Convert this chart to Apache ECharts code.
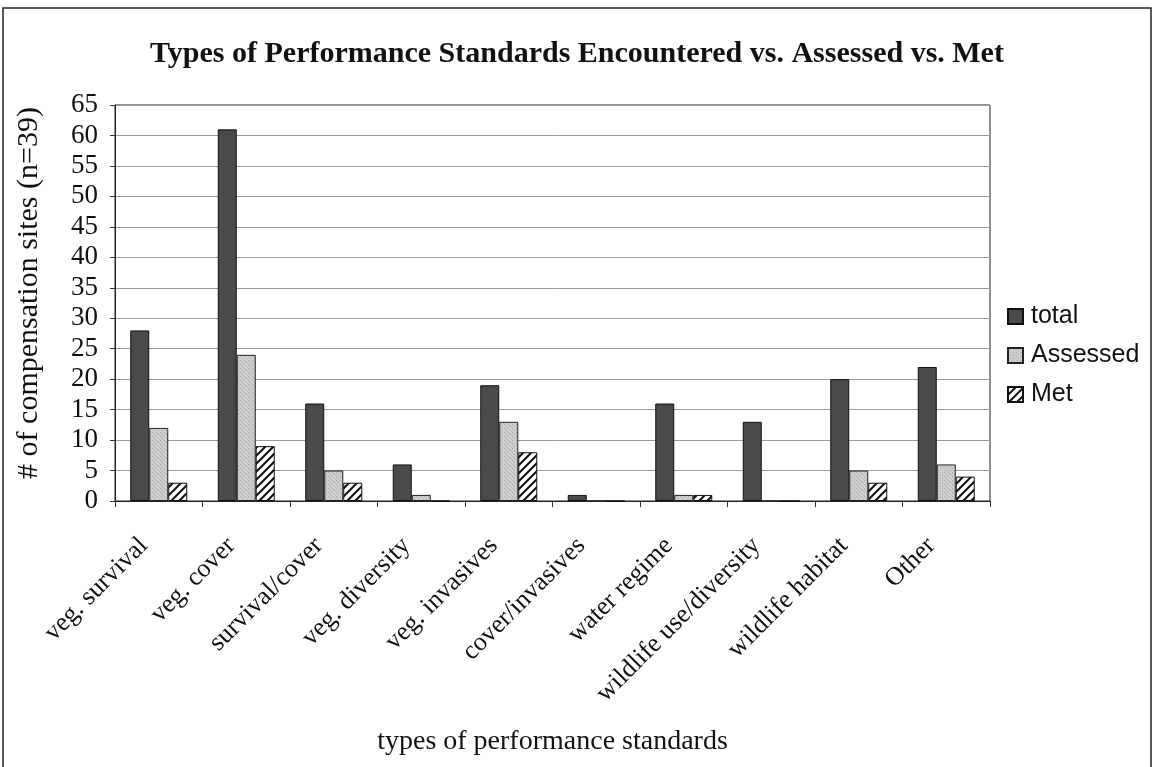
<!DOCTYPE html>
<html>
<head>
<meta charset="utf-8">
<script src="https://cdn.jsdelivr.net/npm/echarts@6/dist/echarts.min.js"></script>
<style>
  html, body { margin: 0; padding: 0; background: #fff; }
  #chart { width: 1154px; height: 767px; }
</style>
</head>
<body>
<div id="chart"></div>
<script>
// Performance standard categories and site counts
const categories = [
  'veg. survival', 'veg. cover', 'survival/cover', 'veg. diversity', 'veg. invasives',
  'cover/invasives', 'water regime', 'wildlife use/diversity', 'wildlife habitat', 'Other'
];
const totalCounts    = [28, 61, 16, 6, 19, 1, 16, 13, 20, 22];
const assessedCounts = [12, 24, 5, 1, 13, 0, 1, 0, 5, 6];
const metCounts      = [3, 9, 3, 0, 8, 0, 1, 0, 3, 4];
const yTicks = { min: 0, max: 65, interval: 5 };

// Diagonal hatch fill for the "Met" series
function hatchPattern() {
  const c = document.createElement('canvas');
  c.width = 8; c.height = 8;
  const g = c.getContext('2d');
  g.fillStyle = '#fff';
  g.fillRect(0, 0, 8, 8);
  g.strokeStyle = '#111';
  g.lineWidth = 2;
  g.beginPath();
  g.moveTo(-2, 10); g.lineTo(10, -2);
  g.moveTo(-2, 2); g.lineTo(2, -2);
  g.moveTo(6, 10); g.lineTo(10, 6);
  g.stroke();
  return { image: c, repeat: 'repeat' };
}

// Fine stipple fill for the "Assessed" series
function stipplePattern() {
  const c = document.createElement('canvas');
  c.width = 4; c.height = 4;
  const g = c.getContext('2d');
  g.fillStyle = '#cdcdcd';
  g.fillRect(0, 0, 4, 4);
  g.fillStyle = '#a8a8a8';
  g.fillRect(0, 0, 1, 1);
  g.fillRect(2, 2, 1, 1);
  return { image: c, repeat: 'repeat' };
}

const serif = "'Liberation Serif', 'Times New Roman', serif";
const sans = "'Liberation Sans', Arial, sans-serif";

const chart = echarts.init(document.getElementById('chart'), null, { renderer: 'canvas' });

chart.setOption({
  animation: false,
  backgroundColor: '#fff',
  title: {
    text: 'Types of Performance Standards Encountered vs. Assessed vs. Met',
    left: 'center',
    top: 34,
    textStyle: { fontFamily: serif, fontWeight: 'bold', fontSize: 30, color: '#111' }
  },
  legend: {
    orient: 'vertical',
    left: 1002,
    top: 299,
    itemWidth: 15,
    itemHeight: 15,
    itemGap: 14,
    icon: 'rect',
    textStyle: { fontFamily: sans, fontSize: 25, color: '#111', padding: [0, 0, 0, 3] },
    data: ['total', 'Assessed', 'Met']
  },
  grid: { left: 115, right: 164, top: 105, bottom: 266, containLabel: false,
          show: true, borderColor: '#222', borderWidth: 1 },
  xAxis: {
    type: 'category',
    data: categories,
    name: 'types of performance standards',
    nameLocation: 'middle',
    nameGap: 227,
    nameTextStyle: { fontFamily: serif, fontSize: 28, color: '#111' },
    axisLine: { lineStyle: { color: '#222', width: 1 } },
    axisTick: { show: true, length: 6, lineStyle: { color: '#333' } },
    axisLabel: { rotate: 45, interval: 0, margin: 26, padding: [0, 21, 0, 0],
                 fontFamily: serif, fontSize: 26, color: '#111' }
  },
  yAxis: {
    type: 'value',
    min: yTicks.min,
    max: yTicks.max,
    interval: yTicks.interval,
    name: '# of compensation sites (n=39)',
    nameLocation: 'middle',
    nameGap: 71,
    nameTextStyle: { fontFamily: serif, fontSize: 30, color: '#111', padding: [0, 0, 0, 20] },
    axisLine: { show: true, lineStyle: { color: '#222', width: 1 } },
    axisTick: { show: true, length: 5, inside: false, lineStyle: { color: '#333' } },
    axisLabel: { fontFamily: serif, fontSize: 27, color: '#111', margin: 17 },
    splitLine: { lineStyle: { color: '#9a9a9a', width: 1 } }
  },
  series: [
    {
      name: 'total', type: 'bar', data: totalCounts,
      barWidth: 19, barGap: '0%',
      itemStyle: { color: '#4a4a4a', borderColor: '#111', borderWidth: 1 }
    },
    {
      name: 'Assessed', type: 'bar', data: assessedCounts,
      barWidth: 19,
      itemStyle: { color: stipplePattern(), borderColor: '#222', borderWidth: 1 }
    },
    {
      name: 'Met', type: 'bar', data: metCounts,
      barWidth: 19,
      itemStyle: { color: hatchPattern(), borderColor: '#111', borderWidth: 1 }
    }
  ],
  graphic: [
    {
      type: 'rect',
      shape: { x: 3, y: 8, width: 1148, height: 800 },
      style: { fill: 'none', stroke: '#222', lineWidth: 1.5 },
      silent: true
    }
  ]
});
</script>
</body>
</html>
